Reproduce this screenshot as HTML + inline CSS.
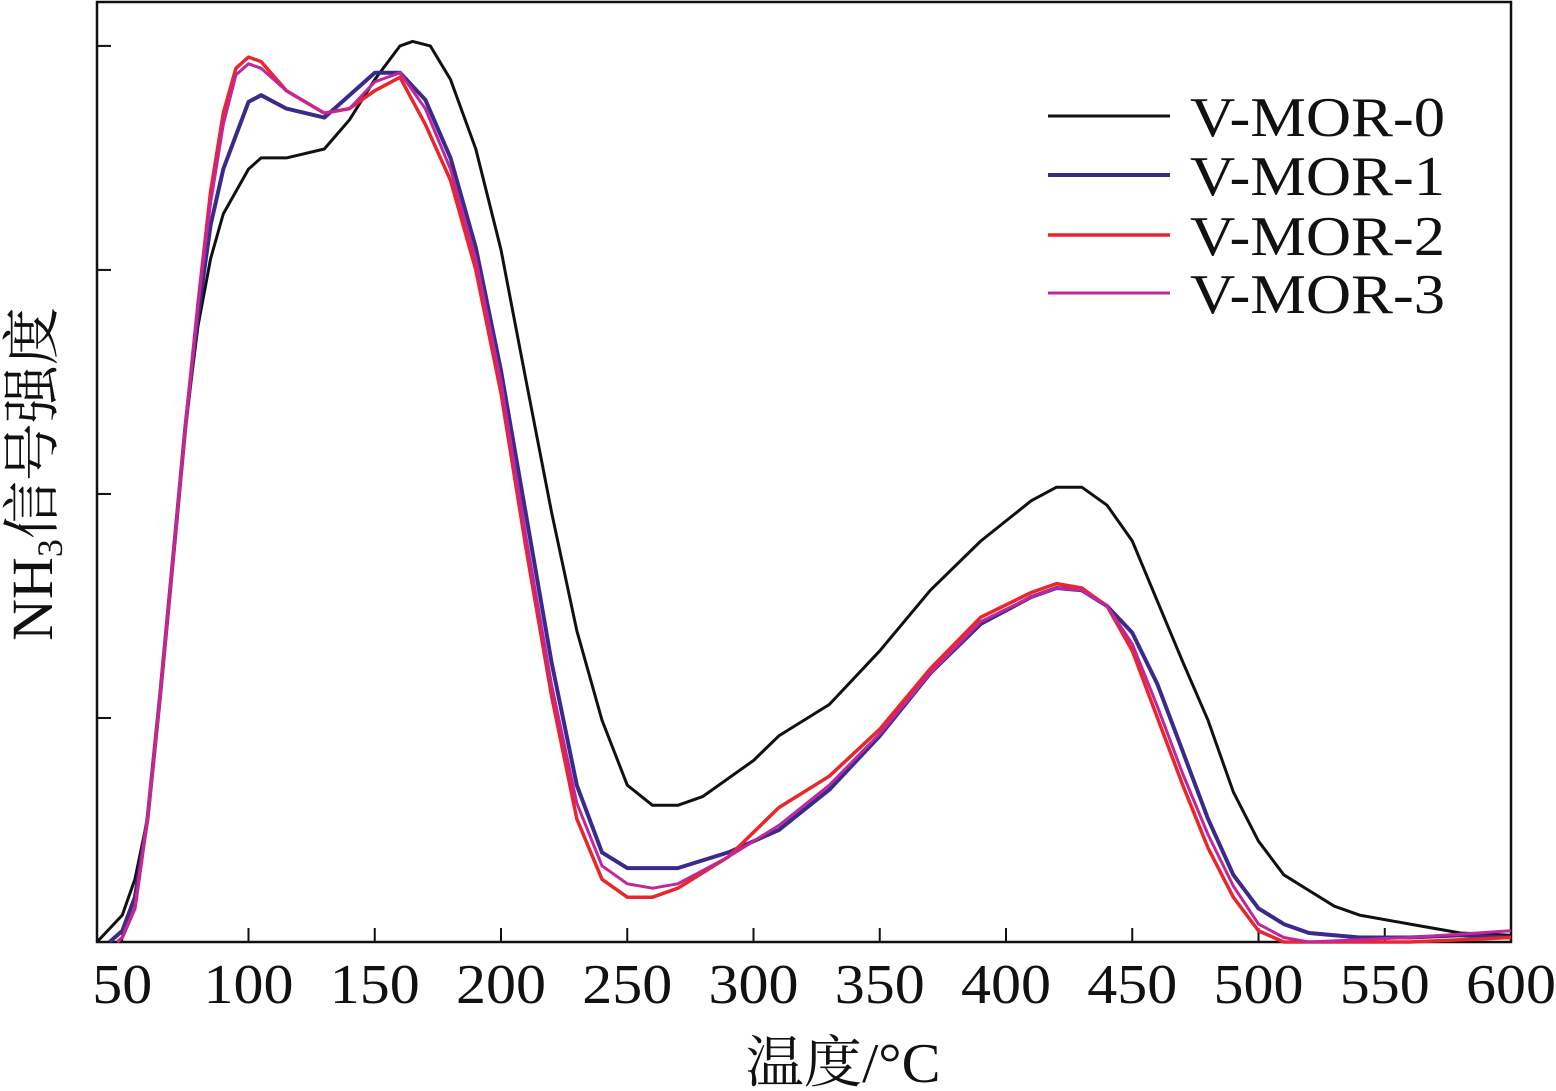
<!DOCTYPE html>
<html><head><meta charset="utf-8"><style>
html,body{margin:0;padding:0;background:#fff;width:1556px;height:1091px;overflow:hidden}
svg{display:block}
text{font-family:"Liberation Serif","Noto Serif CJK SC",serif;fill:#111}
</style></head><body>
<svg id="chart" width="1556" height="1091"></svg>
<script>
const temps0=[40,50,55,60,65,70,75,80,85,90,100,105,115,130,140,150,160,165,172,180,190,200,210,220,230,240,250,260,270,280,300,310,330,350,370,390,410,420,430,440,450,460,470,480,490,500,510,520,530,540,560,580,600];
const vmor0=[0,0.12,0.28,0.55,1.1,1.7,2.3,2.75,3.05,3.25,3.45,3.5,3.5,3.54,3.67,3.85,4.0,4.02,4.0,3.85,3.54,3.09,2.5,1.92,1.39,0.99,0.7,0.61,0.61,0.65,0.81,0.92,1.06,1.3,1.57,1.79,1.97,2.03,2.03,1.95,1.79,1.52,1.25,0.99,0.67,0.45,0.3,0.23,0.16,0.12,0.08,0.04,0.03];
const temps1=[45,50,55,60,65,70,75,80,85,90,100,105,115,130,140,150,160,170,180,190,200,210,220,230,240,250,260,270,290,310,330,350,370,390,410,420,430,440,450,460,470,480,490,500,510,520,540,560,580,600];
const vmor1=[0,0.05,0.2,0.55,1.1,1.7,2.3,2.8,3.2,3.45,3.75,3.78,3.72,3.68,3.78,3.88,3.88,3.76,3.5,3.1,2.55,1.9,1.25,0.7,0.4,0.33,0.33,0.33,0.4,0.5,0.68,0.92,1.2,1.42,1.54,1.58,1.57,1.5,1.38,1.15,0.85,0.55,0.3,0.15,0.08,0.04,0.02,0.02,0.03,0.02];
const temps2=[48,50,55,60,65,70,75,80,85,90,95,100,105,115,130,140,150,160,170,180,190,200,210,220,230,240,250,260,270,290,310,330,350,370,390,410,420,430,440,450,460,470,480,490,500,510,520,560,600];
const vmor2=[0,0.02,0.15,0.55,1.1,1.7,2.3,2.85,3.35,3.7,3.9,3.95,3.93,3.8,3.7,3.72,3.8,3.86,3.65,3.4,3.0,2.45,1.75,1.1,0.55,0.28,0.2,0.2,0.24,0.38,0.6,0.74,0.95,1.22,1.45,1.56,1.6,1.58,1.5,1.3,1.0,0.7,0.42,0.2,0.05,0,0,0,0.02];
const temps3=[48,50,55,60,65,70,75,80,85,90,95,100,105,115,130,140,150,160,170,180,190,200,210,220,230,240,250,260,270,290,310,330,350,370,390,410,420,430,440,450,460,470,480,490,500,510,520,560,600];
const vmor3=[0,0.02,0.15,0.55,1.1,1.7,2.3,2.85,3.3,3.65,3.87,3.92,3.9,3.8,3.7,3.72,3.84,3.88,3.72,3.45,3.05,2.5,1.8,1.15,0.62,0.34,0.26,0.24,0.26,0.38,0.52,0.7,0.93,1.2,1.43,1.54,1.58,1.57,1.5,1.33,1.05,0.75,0.48,0.25,0.08,0.02,0,0.02,0.05];
const xTicks=[50,100,150,200,250,300,350,400,450,500,550,600];
const yTicks=[1,2,3,4];
const seriesNames=["V-MOR-0","V-MOR-1","V-MOR-2","V-MOR-3"];
const seriesColors=["#111111","#3a2a8a","#e8262b","#c0279a"];
const seriesWidths=[3,4,3.5,3];

const NS="http://www.w3.org/2000/svg";
const svg=document.getElementById('chart');
const L=97,R=1511,T=2,B=942;
const X=v=>L+(v-40)/(600-40)*(R-L);
const Y=v=>B-v/4.196*(B-T);
function el(tag,attrs,parent){const e=document.createElementNS(NS,tag);for(const k in attrs)e.setAttribute(k,attrs[k]);(parent||svg).appendChild(e);return e;}

const frame=el('rect',{x:L,y:T,width:R-L,height:B-T,fill:'none',stroke:'#111','stroke-width':2.5});



xTicks.forEach(t=>{
  const ln=el('line',{x1:X(t),x2:X(t),y1:B,y2:B-14,stroke:'#111','stroke-width':2});
  
  
  const w=String(t).length*30;
  const tx=el('text',{x:X(t),y:1003,'text-anchor':'middle','font-size':56,textLength:w,lengthAdjust:'spacingAndGlyphs'});
  tx.textContent=t;
  
  
});
yTicks.forEach(t=>{
  const ln=el('line',{x1:L,x2:L+14,y1:Y(t),y2:Y(t),stroke:'#111','stroke-width':2});
  
  
});

const allT=[temps0,temps1,temps2,temps3];
const allV=[vmor0,vmor1,vmor2,vmor3];
allV.forEach((vals,i)=>{
  const d=vals.map((v,j)=>(j?'L':'M')+X(allT[i][j]).toFixed(1)+','+Y(v).toFixed(1)).join(' ');
  const p=el('path',{d:d,fill:'none',stroke:seriesColors[i],'stroke-width':seriesWidths[i],'stroke-linejoin':'round'});
  
  
});

const legendY=[116,175,235,293];
seriesNames.forEach((n,i)=>{
  const ln=el('line',{x1:1048,x2:1170,y1:legendY[i],y2:legendY[i],stroke:seriesColors[i],'stroke-width':seriesWidths[i]});
  
  
  const tx=el('text',{x:1190,y:legendY[i]+20,'font-size':56,textLength:255,lengthAdjust:'spacingAndGlyphs'});
  tx.textContent=n;
  
  
});

const xl=el('text',{x:843,y:1082,'text-anchor':'middle','font-size':56,textLength:195,lengthAdjust:'spacingAndGlyphs'});
xl.textContent='温度/°C';



const yl=el('text',{x:0,y:0,'text-anchor':'middle','font-size':58,transform:'translate(52,474) rotate(-90)'});
yl.innerHTML='NH<tspan font-size="36" dy="10">3</tspan><tspan dy="-10">信号强度</tspan>';


</script>
</body></html>
